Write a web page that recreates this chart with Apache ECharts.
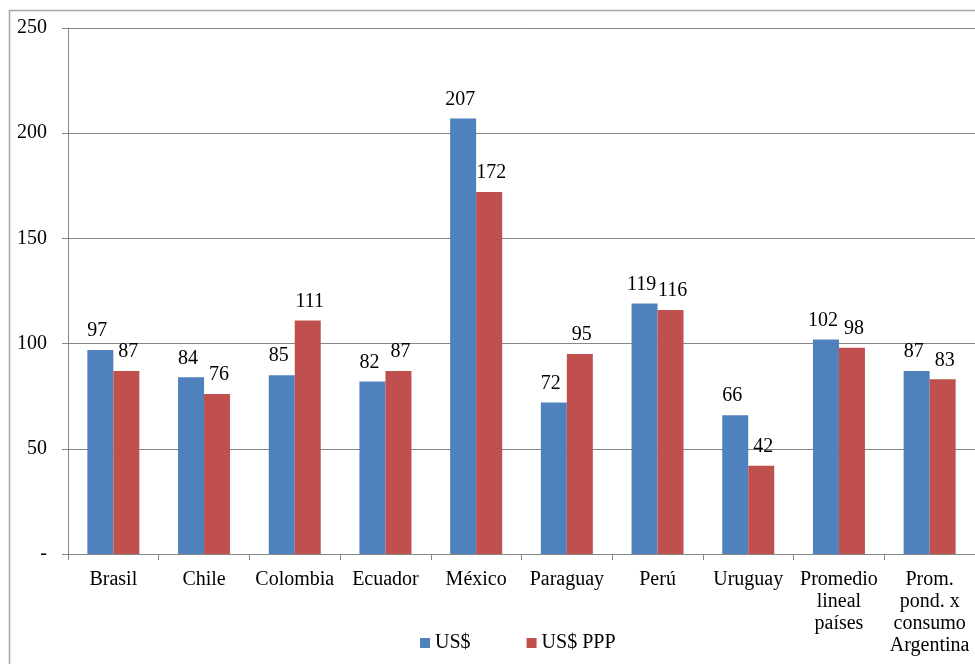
<!DOCTYPE html>
<html><head><meta charset="utf-8">
<script src="https://cdn.jsdelivr.net/npm/echarts@6/dist/echarts.min.js"></script>
<style>html,body{margin:0;padding:0;background:#fff}#c{width:975px;height:664px}</style>
</head><body><div id="c"></div>
<script>
const categories = ['Brasil','Chile','Colombia','Ecuador','México','Paraguay','Perú','Uruguay','Promedio\nlineal\npaíses','Prom.\npond. x\nconsumo\nArgentina'];
const usd = [97, 84, 85, 82, 207, 72, 119, 66, 102, 87];
const usdPPP = [87, 76, 111, 87, 172, 95, 116, 42, 98, 83];
const yTicks = [0, 50, 100, 150, 200, 250];
const seriesNames = ['US$', 'US$ PPP'];

const font = '"Liberation Serif", "Times New Roman", serif';
const fs = 20;
const chart = echarts.init(document.getElementById('c'));
chart.setOption({
  animation: false,
  textStyle: { fontFamily: font },
  graphic: [{ type: 'rect', shape: { x: 9.5, y: 10.5, width: 1000, height: 700 }, style: { fill: 'none', stroke: '#a6a6a6', lineWidth: 1.5 }, silent: true }],
  grid: { left: 68, top: 28, width: 910, height: 526 },
  legend: {
    bottom: 6, left: 415, itemWidth: 10, itemHeight: 10, itemGap: 56,
    icon: 'rect',
    textStyle: { fontFamily: font, fontSize: fs, color: '#000' },
    data: seriesNames
  },
  xAxis: {
    type: 'category', data: categories,
    axisLine: { lineStyle: { color: '#868686', width: 1 } },
    axisTick: { show: true, length: 6, lineStyle: { color: '#868686' } },
    axisLabel: { color: '#000', fontSize: fs, fontFamily: font, lineHeight: 22, margin: 15, interval: 0 }
  },
  yAxis: {
    type: 'value', min: 0, max: 250, interval: 50,
    axisLine: { show: true, lineStyle: { color: '#868686' } },
    axisTick: { show: true, length: 6, lineStyle: { color: '#868686' } },
    splitLine: { lineStyle: { color: '#868686' } },
    axisLabel: { color: '#000', fontSize: fs, fontFamily: font, margin: 21,
      formatter: v => yTicks.includes(v) ? (v === 0 ? '-' : String(v)) : '' }
  },
  series: [
    { name: seriesNames[0], type: 'bar', data: usd, barWidth: 26, barGap: '0%',
      itemStyle: { color: '#4F81BD' },
      label: { show: true, position: 'top', distance: 9, color: '#000', fontSize: fs, fontFamily: font, offset: [-3, 0] } },
    { name: seriesNames[1], type: 'bar', data: usdPPP, barWidth: 26,
      itemStyle: { color: '#C0504D' },
      label: { show: true, position: 'top', distance: 9, color: '#000', fontSize: fs, fontFamily: font, offset: [2, 0] } }
  ]
});
</script></body></html>
